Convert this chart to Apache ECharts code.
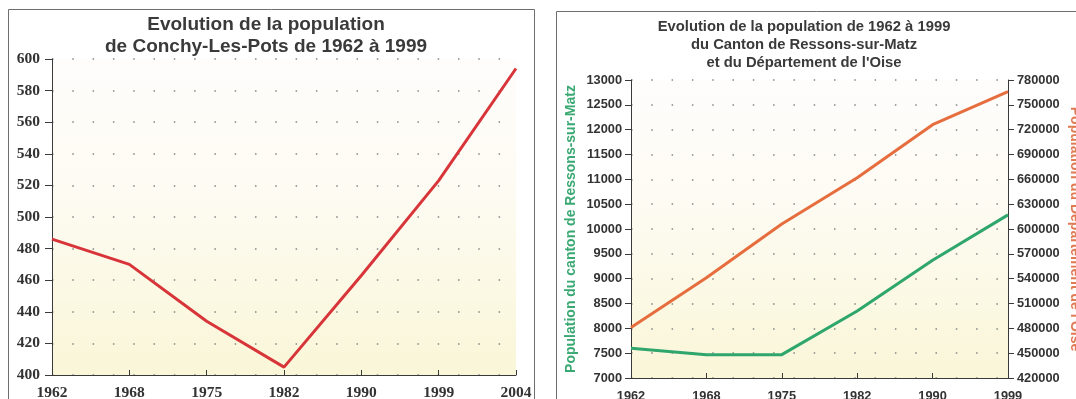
<!DOCTYPE html>
<html>
<head>
<meta charset="utf-8">
<script src="https://cdn.jsdelivr.net/npm/echarts@6/dist/echarts.min.js"></script>
<style>
  html, body { margin: 0; padding: 0; background: #ffffff; }
  #chart { width: 1076px; height: 399px; }
</style>
</head>
<body>
<div id="chart"></div>
<script>
// Conchy-Les-Pots census years and population
const yearsConchy = ['1962', '1968', '1975', '1982', '1990', '1999', '2004'];
const popConchy = [486, 470, 434, 405, 463, 523, 594];
const conchyAxis = { min: 400, max: 600, interval: 20 };

// Canton de Ressons-sur-Matz (left axis) and Département de l'Oise (right axis)
const yearsCanton = ['1962', '1968', '1975', '1982', '1990', '1999'];
const popCanton = [7600, 7470, 7470, 8350, 9370, 10285];
const popOise = [481000, 541000, 606000, 662000, 726000, 766000];
const cantonAxis = { min: 7000, max: 13000, interval: 500 };
const oiseAxis = { min: 420000, max: 780000, interval: 30000 };

const plotFill = {
  type: 'linear', x: 0, y: 0, x2: 0, y2: 1,
  colorStops: [
    { offset: 0, color: '#fffdfc' },
    { offset: 0.45, color: '#fdfbf1' },
    { offset: 1, color: '#faf6d8' }
  ]
};

const dots = { show: true, lineStyle: { color: '#858585', width: 1.5, type: [1.5, 18.8] } };
const axisDark = { show: true, lineStyle: { color: '#3a3a3a', width: 1 } };
const serifLabel = { fontFamily: 'Liberation Serif', fontWeight: 'bold', fontSize: 15.5, color: '#333' };
const sansLabel = { fontFamily: 'Liberation Sans', fontWeight: 'bold', fontSize: 12.8, color: '#333' };

const chart = echarts.init(document.getElementById('chart'), null, { renderer: 'canvas' });

chart.setOption({
  backgroundColor: '#ffffff',
  animation: false,
  title: [
    {
      text: 'Evolution de la population\nde Conchy-Les-Pots de 1962 à 1999',
      left: 261, top: 9, textAlign: 'center',
      textStyle: { fontFamily: 'Liberation Sans', fontWeight: 'bold', fontSize: 19, lineHeight: 22, color: '#3a3a3a' }
    },
    {
      text: 'Evolution de la population de 1962 à 1999\ndu Canton de Ressons-sur-Matz\net du Département de l\'Oise',
      left: 799, top: 13, textAlign: 'center',
      textStyle: { fontFamily: 'Liberation Sans', fontWeight: 'bold', fontSize: 14.8, lineHeight: 18, color: '#3a3a3a' }
    }
  ],
  graphic: [
    { type: 'rect', shape: { x: 8.5, y: 9.5, width: 526, height: 400 }, style: { fill: 'none', stroke: '#6e6e6e', lineWidth: 1 } },
    { type: 'rect', shape: { x: 556.5, y: 11.5, width: 540, height: 400 }, style: { fill: 'none', stroke: '#6e6e6e', lineWidth: 1 } }
  ],
  grid: [
    { left: 52, top: 59, width: 464, height: 316, show: true, borderWidth: 0, backgroundColor: plotFill, outerBoundsMode: 'none', containLabel: false },
    { left: 631, top: 80, width: 377, height: 298, show: true, borderWidth: 0, backgroundColor: plotFill, outerBoundsMode: 'none', containLabel: false }
  ],
  xAxis: [
    {
      type: 'category', gridIndex: 0, data: yearsConchy, boundaryGap: false,
      axisLine: axisDark,
      axisTick: { show: true, inside: true, length: 5, interval: 0, lineStyle: { color: '#3a3a3a' } },
      axisLabel: Object.assign({ margin: 10, interval: 0 }, serifLabel),
      splitLine: { show: false }
    },
    {
      type: 'category', gridIndex: 1, data: yearsCanton, boundaryGap: false,
      axisLine: axisDark,
      axisTick: { show: true, inside: true, length: 5, interval: 0, lineStyle: { color: '#3a3a3a' } },
      axisLabel: Object.assign({ margin: 12, interval: 0 }, sansLabel),
      splitLine: { show: false }
    }
  ],
  yAxis: [
    {
      type: 'value', gridIndex: 0,
      min: conchyAxis.min, max: conchyAxis.max, interval: conchyAxis.interval,
      axisLine: axisDark,
      axisTick: { show: true, length: 7, lineStyle: { color: '#3a3a3a' } },
      axisLabel: Object.assign({ margin: 12 }, serifLabel),
      splitLine: dots
    },
    {
      type: 'value', gridIndex: 1, position: 'left',
      min: cantonAxis.min, max: cantonAxis.max, interval: cantonAxis.interval,
      name: 'Population du canton de Ressons-sur-Matz',
      nameLocation: 'middle', nameGap: 53,
      nameTextStyle: { fontFamily: 'Liberation Sans', fontWeight: 'bold', fontSize: 14, color: '#3aa872' },
      axisLine: axisDark,
      axisTick: { show: true, length: 6, lineStyle: { color: '#3a3a3a' } },
      axisLabel: Object.assign({ margin: 9, formatter: v => String(v) }, sansLabel),
      splitLine: dots
    },
    {
      type: 'value', gridIndex: 1, position: 'right',
      min: oiseAxis.min, max: oiseAxis.max, interval: oiseAxis.interval,
      name: 'Population du Département de l\'Oise',
      nameLocation: 'middle', nameGap: 60, nameRotate: -90,
      nameTextStyle: { fontFamily: 'Liberation Sans', fontWeight: 'bold', fontSize: 14, color: '#e07a52' },
      axisLine: axisDark,
      axisTick: { show: true, length: 6, lineStyle: { color: '#3a3a3a' } },
      axisLabel: Object.assign({ margin: 9, formatter: v => String(v) }, sansLabel),
      splitLine: { show: false }
    }
  ],
  series: [
    {
      type: 'line', xAxisIndex: 0, yAxisIndex: 0, data: popConchy,
      showSymbol: false, symbol: 'none',
      lineStyle: { color: '#d8353a', width: 3 }
    },
    {
      type: 'line', xAxisIndex: 1, yAxisIndex: 2, data: popOise,
      showSymbol: false, symbol: 'none',
      lineStyle: { color: '#e66d3e', width: 3 }
    },
    {
      type: 'line', xAxisIndex: 1, yAxisIndex: 1, data: popCanton,
      showSymbol: false, symbol: 'none',
      lineStyle: { color: '#2fa66c', width: 3 }
    }
  ]
});
</script>
</body>
</html>
